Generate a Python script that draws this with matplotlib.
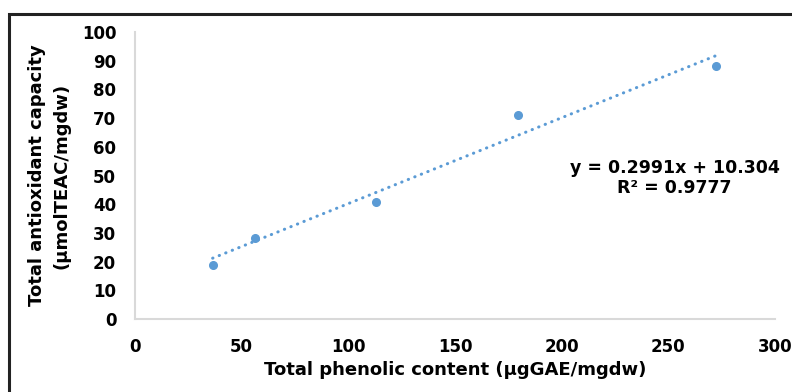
import matplotlib.pyplot as plt
from matplotlib.patches import Rectangle
import numpy as np

plt.rcParams['font.family'] = ['DejaVu Sans']

# data
phenolic = [36.4, 56.3, 113.0, 179.5, 272.3]
antiox = [18.8, 28.1, 40.8, 71.0, 88.2]
slope, intercept = 0.2991, 10.304
r2 = 0.9777
xticks = [0, 50, 100, 150, 200, 250, 300]
yticks = list(range(0, 101, 10))

blue = '#5B9BD5'
grey = '#D9D9D9'

fig = plt.figure(figsize=(7.92, 3.92), dpi=100)
W, H = 792, 392
ax = fig.add_axes([135 / W, 1 - 319 / H, 640 / W, 287 / H])

# outer frame (cropped at right and bottom in the original)
fig.patches.append(Rectangle((9 / W, -0.1), 1.2, 1 - 14 / H + 0.1,
                             transform=fig.transFigure, fill=False,
                             edgecolor='#222222', linewidth=2.2))

# trendline
xs = np.array([min(phenolic), max(phenolic)])
ax.plot(xs, slope * xs + intercept, linestyle=(0, (0.1, 2.2)), color=blue,
        linewidth=2.2, dash_capstyle='round')
ax.plot(phenolic, antiox, 'o', color=blue, markersize=5.5)

ax.set_xlim(0, 300)
ax.set_ylim(0, 100)
ax.set_xticks(xticks)
ax.set_yticks(yticks)
for lab in ax.get_xticklabels() + ax.get_yticklabels():
    lab.set_fontweight('bold')
ax.tick_params(length=0, labelsize=12)
ax.tick_params(axis='x', pad=13.5)
ax.tick_params(axis='y', pad=13.5)

for s in ['top', 'right']:
    ax.spines[s].set_visible(False)
for s in ['left', 'bottom']:
    ax.spines[s].set_color(grey)
    ax.spines[s].set_linewidth(1.5)

ax.set_xlabel('Total phenolic content (µgGAE/mgdw)', fontsize=13,
              fontweight='bold', labelpad=4)
ax.set_ylabel('Total antioxidant capacity\n(µmolTEAC/mgdw)', fontsize=13,
              fontweight='bold', labelpad=8, linespacing=1.45)

ax.text(253, 49.1, 'y = 0.2991x + 10.304\nR² = %.4f' % r2, fontsize=12.5,
        fontweight='bold', ha='center', va='center', linespacing=1.2)

fig.savefig('out.png', dpi=100)
